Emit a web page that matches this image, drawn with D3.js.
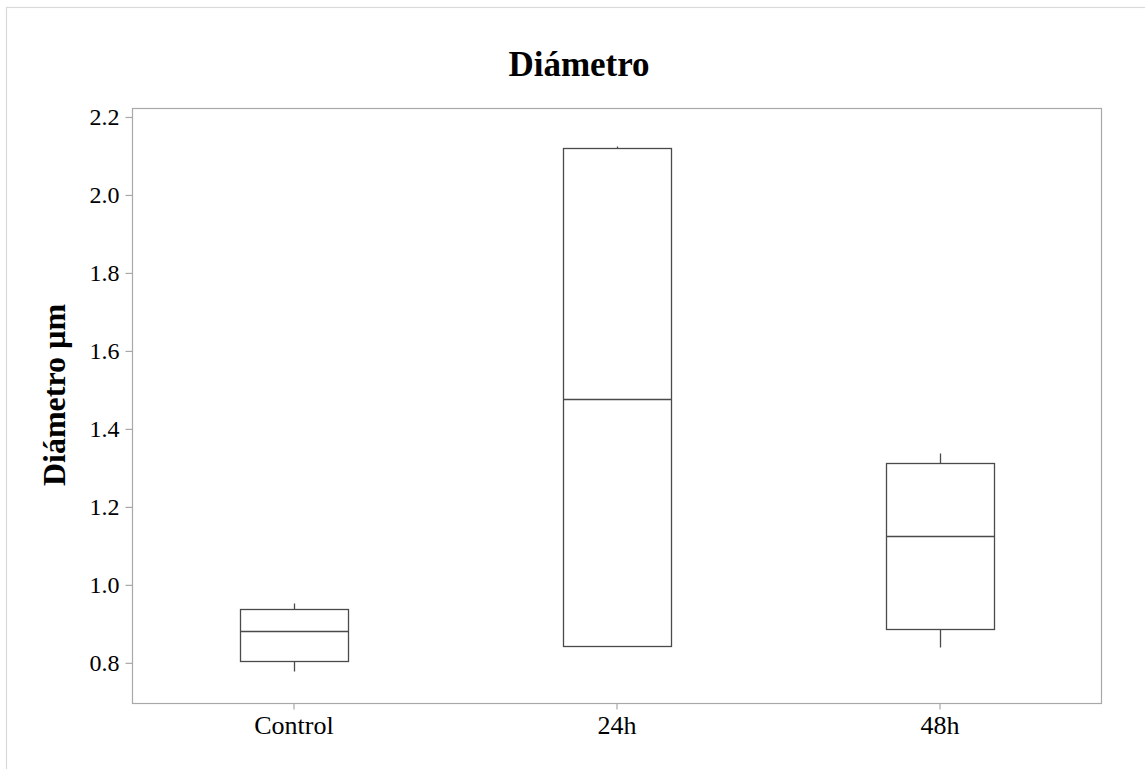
<!DOCTYPE html>
<html>
<head>
<meta charset="utf-8">
<script src="https://cdn.jsdelivr.net/npm/d3@7"></script>
<style>
  html, body { margin: 0; padding: 0; background: #fff; }
  svg { display: block; }
</style>
</head>
<body>
<svg id="chart" width="1145" height="769"></svg>
<script>
// Box plot summary per group (µm)
const categories = ["Control", "24h", "48h"];
const whiskerLow = [0.778, 0.845, 0.840];
const q1 = [0.804, 0.845, 0.886];
const median = [0.881, 1.477, 1.126];
const q3 = [0.938, 2.121, 1.312];
const whiskerHigh = [0.953, 2.126, 1.338];
const yTicks = [0.8, 1.0, 1.2, 1.4, 1.6, 1.8, 2.0, 2.2];

const titleText = "Diámetro";
const yLabelText = "Diámetro µm";

const svg = d3.select("#chart");
const W = 1145, H = 769;
const plot = { left: 132, right: 1101, top: 108, bottom: 703 };
const serif = "'Liberation Serif', 'Times New Roman', Times, serif";

// Outer frame (only top and left edges fall inside the page)
svg.append("rect")
  .attr("x", 6.5).attr("y", 7.5)
  .attr("width", W + 20).attr("height", H + 20)
  .attr("fill", "none").attr("stroke", "#d9d9d9").attr("stroke-width", 1.2);

const x = d3.scalePoint()
  .domain(categories)
  .range([plot.left, plot.right])
  .padding(0.5);

const y = d3.scaleLinear()
  .domain([0.697, 2.223])
  .range([plot.bottom, plot.top]);

const boxW = x.step() / 3;

// Plot frame
svg.append("rect")
  .attr("x", plot.left + 0.5).attr("y", plot.top + 0.5)
  .attr("width", plot.right - plot.left).attr("height", plot.bottom - plot.top)
  .attr("fill", "none").attr("stroke", "#a8a8a8").attr("stroke-width", 1.2);

// Y axis
const yAxis = svg.append("g")
  .attr("transform", `translate(${plot.left + 0.5},0)`)
  .call(d3.axisLeft(y).tickValues(yTicks).tickFormat(d3.format(".1f")).tickSize(7).tickPadding(6));
yAxis.select(".domain").remove();
yAxis.selectAll(".tick line").attr("stroke", "#a8a8a8").attr("stroke-width", 1.2);
yAxis.selectAll(".tick text")
  .attr("fill", "#000")
  .style("font-family", serif)
  .style("font-size", "24px");

// X axis
const xAxis = svg.append("g")
  .attr("transform", `translate(0,${plot.bottom + 0.5})`)
  .call(d3.axisBottom(x).tickSize(6).tickPadding(6));
xAxis.select(".domain").remove();
xAxis.selectAll(".tick line").attr("stroke", "#a8a8a8").attr("stroke-width", 1.2);
xAxis.selectAll(".tick text")
  .attr("fill", "#000")
  .style("font-family", serif)
  .style("font-size", "26px");

// Boxes
const data = categories.map((c, i) => ({
  c, lo: whiskerLow[i], q1: q1[i], med: median[i], q3: q3[i], hi: whiskerHigh[i]
}));

const px = v => Math.round(v) + 0.5;
const boxes = svg.append("g").attr("stroke", "#4a4a4a").attr("stroke-width", 1.3).attr("fill", "none");

data.forEach(d => {
  const cx = px(x(d.c));
  const g = boxes.append("g");
  // whiskers
  g.append("line").attr("x1", cx).attr("x2", cx).attr("y1", px(y(d.hi))).attr("y2", px(y(d.q3)));
  g.append("line").attr("x1", cx).attr("x2", cx).attr("y1", px(y(d.q1))).attr("y2", px(y(d.lo)));
  // box
  g.append("rect")
    .attr("x", px(x(d.c) - boxW / 2)).attr("y", px(y(d.q3)))
    .attr("width", Math.round(boxW)).attr("height", Math.round(y(d.q1) - y(d.q3)))
    .attr("fill", "#fff");
  // median
  g.append("line")
    .attr("x1", px(x(d.c) - boxW / 2)).attr("x2", px(x(d.c) - boxW / 2) + Math.round(boxW))
    .attr("y1", px(y(d.med))).attr("y2", px(y(d.med)));
});

// Title
svg.append("text")
  .attr("x", 579).attr("y", 76)
  .attr("text-anchor", "middle")
  .style("font-family", serif)
  .style("font-size", "35px")
  .style("font-weight", "bold")
  .text(titleText);

// Y axis label
svg.append("text")
  .attr("transform", `translate(65,395) rotate(-90)`)
  .attr("text-anchor", "middle")
  .style("font-family", serif)
  .style("font-size", "32px")
  .style("font-weight", "bold")
  .text(yLabelText);
</script>
</body>
</html>
